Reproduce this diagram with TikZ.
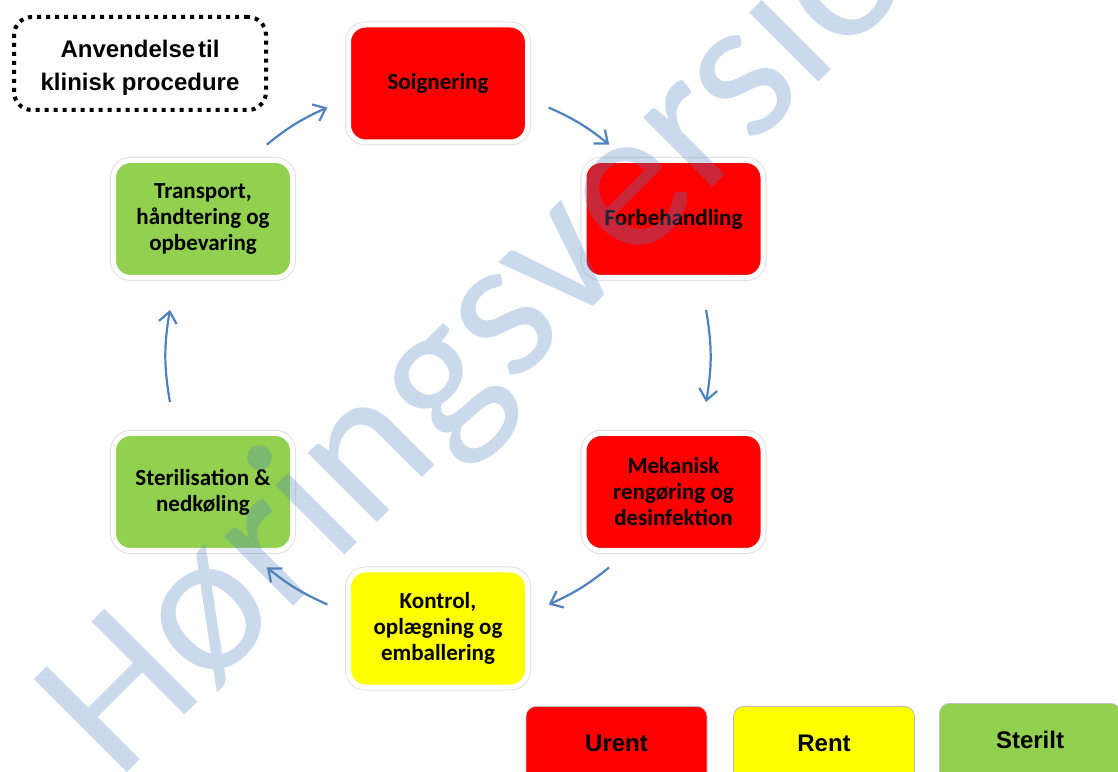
\documentclass[tikz,border=0pt]{standalone}
\usepackage{fontspec}
\setmainfont{Carlito}
\newfontfamily\arialfont{Liberation Sans}
\usetikzlibrary{arrows.meta,calc}

\definecolor{urent}{RGB}{255,0,0}
\definecolor{rent}{RGB}{255,255,0}
\definecolor{sterilt}{RGB}{146,208,80}
\definecolor{flowblue}{RGB}{79,129,189}

\tikzset{
  stage/.style={rounded corners=17pt, minimum width=179pt, minimum height=117pt,
    inner sep=0pt, align=center, draw=white, line width=5pt,
    preaction={draw=black!12, line width=7pt},
    font=\bfseries\fontsize{23}{26}\selectfont},
  flow/.style={draw=flowblue, line width=2.2pt,
    -{Straight Barb[length=11pt,width=18pt]}},
  legendbox/.style={draw=black!25, line width=0.8pt, rounded corners=10pt,
    minimum width=181pt, minimum height=110pt, anchor=north, inner sep=0pt},
  legendtext/.style={font=\arialfont\bfseries\fontsize{24}{28}\selectfont, inner sep=0pt},
}

\begin{document}
\begin{tikzpicture}[x=1pt,y=1pt]
\useasboundingbox (0,0) rectangle (1118,771);
\clip (0,0) rectangle (1118,771);

% cycle stages
\node[stage, fill=urent]   (soig)  at (438,687.5) {Soignering};
\node[stage, fill=urent]   (forb)  at (673.5,552) {Forbehandling};
\node[stage, fill=urent]   (mek)   at (673.5,279) {Mekanisk\\rengøring og\\desinfektion};
\node[stage, fill=rent]    (kon)   at (438,142.5) {Kontrol,\\oplægning og\\emballering};
\node[stage, fill=sterilt] (ster)  at (203,279)   {Sterilisation \&\\nedkøling};
\node[stage, fill=sterilt] (trans) at (203,552)   {Transport,\\håndtering og\\opbevaring};

% dotted note
\node[draw, line width=4pt, dash pattern=on 4pt off 5pt, rounded corners=18pt,
      minimum width=252pt, minimum height=93pt, inner sep=0pt] (use) at (140,707.5) {};
\node[align=center, inner sep=0pt, font=\arialfont\bfseries\fontsize{24}{33}\selectfont]
      (usetxt) at ([yshift=-4pt]use.center) {Anvendelse\hspace{0.12em}til\\klinisk procedure};

% arrows along the cycle
\coordinate (ctr) at (438,415);
\coordinate (a1s) at ($(ctr)+(66:272)$);     \coordinate (a1e) at ($(ctr)+(51:272)$);
\coordinate (a2s) at ($(ctr)+(9.75:272)$);   \coordinate (a2e) at ($(ctr)+(-9.75:272)$);
\coordinate (a3s) at ($(ctr)+(-51:272)$);    \coordinate (a3e) at ($(ctr)+(-66:272)$);
\coordinate (a4s) at ($(ctr)+(-114:272)$);   \coordinate (a4e) at ($(ctr)+(-129:272)$);
\coordinate (a5s) at ($(ctr)+(189.75:272)$); \coordinate (a5e) at ($(ctr)+(170.25:272)$);
\coordinate (a6s) at ($(ctr)+(129:272)$);    \coordinate (a6e) at ($(ctr)+(114:272)$);
\draw[flow] (a1s) to[bend left=7.5]  (a1e);
\draw[flow] (a2s) to[bend left=9.75] (a2e);
\draw[flow] (a3s) to[bend left=7.5]  (a3e);
\draw[flow] (a4s) to[bend left=7.5]  (a4e);
\draw[flow] (a5s) to[bend left=9.75] (a5e);
\draw[flow] (a6s) to[bend left=7.5]  (a6e);

% legend
\node[legendbox, fill=urent]   (lu) at (616.5,65) {};
\node[legendbox, fill=rent]    (lr) at (824,65)   {};
\node[legendbox, fill=sterilt] (ls) at (1030,68)  {};
\node[legendtext] (lut) at ([yshift=-37pt]lu.north) {Urent};
\node[legendtext] (lrt) at ([yshift=-37pt]lr.north) {Rent};
\node[legendtext] (lst) at ([yshift=-37pt]ls.north) {Sterilt};

% watermark
\node[rotate=45, anchor=base west, inner sep=0pt, text=flowblue, text opacity=0.3,
      font=\fontsize{205}{205}\selectfont] (wm) at (117,-12) {Høringsversion};
\end{tikzpicture}
\end{document}
